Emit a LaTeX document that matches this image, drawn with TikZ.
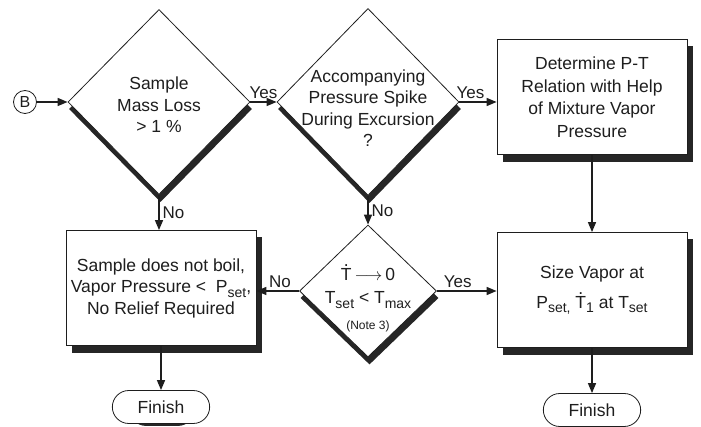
\documentclass[tikz,border=0pt]{standalone}
\usepackage{fontspec}
\setmainfont{Liberation Sans}
\usepackage{tikz}
\usetikzlibrary{shapes.geometric, shapes.misc, arrows.meta, positioning, backgrounds}
\definecolor{fcInk}{HTML}{1E1E1E}
\definecolor{fcShade}{HTML}{262626}
\newcommand{\lowsub}[1]{\raisebox{-0.5ex}{\fontsize{14}{14}\selectfont #1}}
\newcommand{\Tdot}{\leavevmode\rlap{\hbox to 0.61em{\hss\raisebox{0.78em}{.}\hss}}T}

\begin{document}
\begin{tikzpicture}[x=1pt, y=-1pt,
  every node/.style={text=fcInk},
  txt/.style={font=\fontsize{17.5}{21.5}\selectfont, align=center},
  ans/.style={font=\fontsize{17}{17}\selectfont, inner sep=3pt},
  decide/.style={diamond, draw=fcInk, line width=0.8pt, fill=white, inner sep=0pt},
  task/.style={rectangle, draw=fcInk, line width=0.8pt, fill=white, txt,
    minimum width=190pt, minimum height=115pt},
  endbox/.style={rounded rectangle, draw=fcInk, line width=0.8pt, fill=white, txt,
    minimum width=104pt, minimum height=33pt},
  flow/.style={-{Triangle[length=10pt,width=8pt]}, line width=1.4pt, draw=fcInk}]
  \useasboundingbox (0,0) rectangle (701,427);
  % start
  \node[circle, draw=fcInk, line width=0.8pt, minimum size=23pt, inner sep=0pt,
        font=\fontsize{16}{16}\selectfont] (start) at (25,102) {B};
  % decisions
  \node[decide, minimum width=182pt, minimum height=185pt] (massq) at (159,102) {};
  \node[txt] (masst) at (159,105) {Sample\\Mass Loss\\> 1 \%};
  \node[decide, minimum width=182pt, minimum height=187pt] (spikeq) at (368,102) {};
  \node[txt] (spiket) at (368,108) {Accompanying\\Pressure Spike\\During Excursion\\?};
  \node[decide, minimum width=137pt, minimum height=132pt] (rateq) at (368,291) {};
  \node[txt] (ratet) at (368,298) {\Tdot\,$\longrightarrow$\,0\\[2pt]
    T\lowsub{set} < T\lowsub{max}\\[4pt]{\fontsize{12}{14}\selectfont (Note 3)}};
  % tasks
  \node[task] (plan) at (592,97) {Determine P-T\\[1pt]Relation with Help\\[1pt]of Mixture Vapor\\[1pt]Pressure};
  \node[task] (size) at (592,290) {\raisebox{-4pt}{Size Vapor at}\\[10pt]P\lowsub{set,} \Tdot\lowsub{1} at T\lowsub{set}};
  \node[task] (boil) at (161,288) {Sample does not boil,\\Vapor Pressure <\ \ P\lowsub{set},\\No Relief Required};
  % finish
  \node[endbox] (fin1) at (161,407) {Finish};
  \node[endbox] (fin2) at (592,410) {Finish};
  % shadows
  \begin{scope}[on background layer]
    \foreach \n in {plan,size,boil}{
      \fill[fcShade] ([shift={(6,7)}]\n.north west) rectangle ([shift={(6,7)}]\n.south east);}
    \foreach \n in {massq,spikeq,rateq}{
      \fill[fcShade] ([shift={(1.5,7)}]\n.north) -- ([shift={(1.5,7)}]\n.east)
        -- ([shift={(1.5,7)}]\n.south) -- ([shift={(1.5,7)}]\n.west) -- cycle;}
    \foreach \n in {fin1,fin2}{
      \fill[fcShade, rounded corners=16pt] ([shift={(1,2)}]\n.north west) rectangle ([shift={(1,2)}]\n.south east);}
  \end{scope}
  % connectors
  \draw[flow] (start) -- (massq.west);
  \draw[flow] (massq.east) -- node[ans, above] {Yes} (spikeq.west);
  \draw[flow] (spikeq.east) -- node[ans, above, pos=.3] {Yes} (spikeq.east -| plan.west);
  \draw[flow] (massq.south) -- node[ans, right] {No} (massq.south |- boil.north);
  \draw[flow] (spikeq.south) -- node[ans, right] {No} (rateq.north);
  \draw[flow] (rateq.west) -- node[ans, above, pos=.45] {No} (rateq.west -| boil.east);
  \draw[flow] (rateq.east) -- node[ans, above, pos=.35] {Yes} (rateq.east -| size.west);
  \draw[flow] (plan.south) -- (size.north);
  \draw[flow] (boil.south) -- (fin1.north);
  \draw[flow] (size.south) -- (fin2.north);
\end{tikzpicture}
\end{document}
